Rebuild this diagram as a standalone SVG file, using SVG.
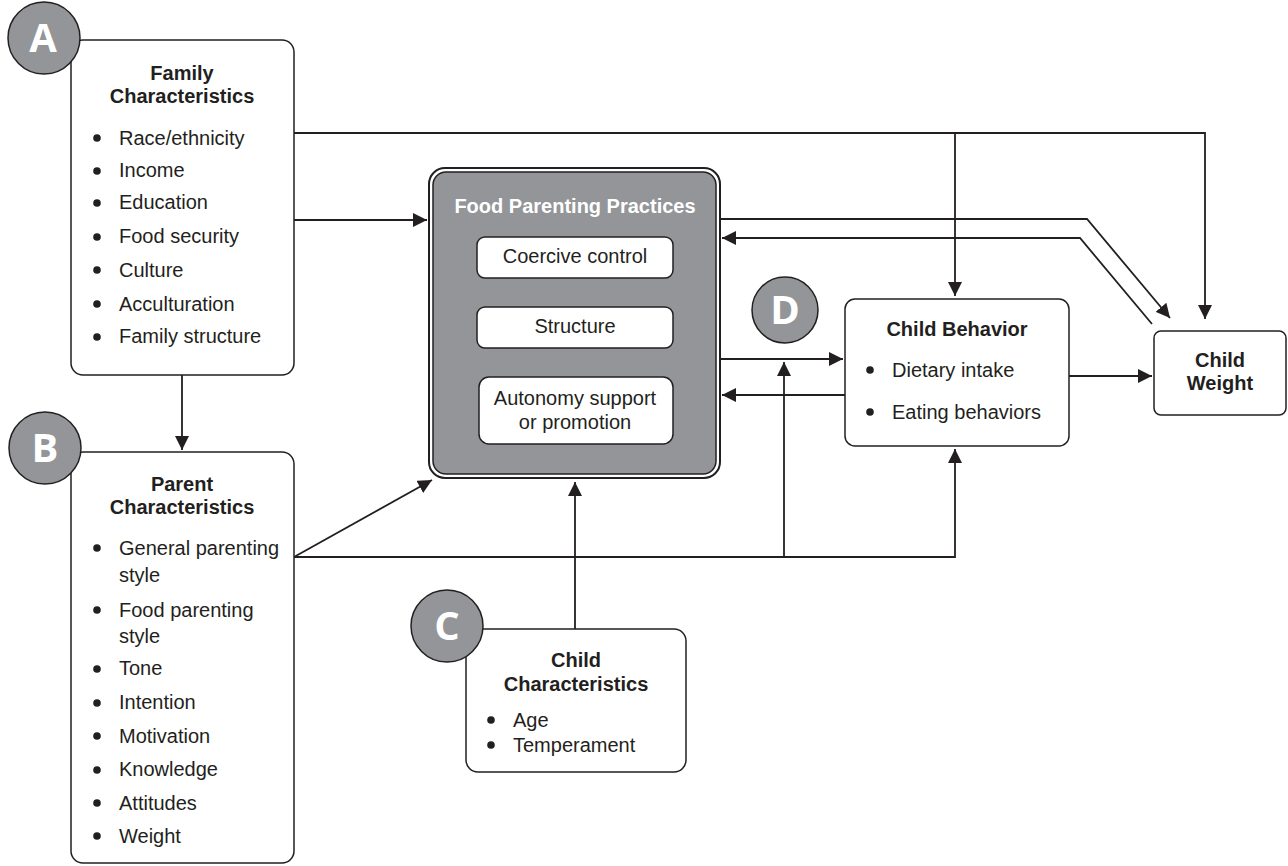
<svg xmlns="http://www.w3.org/2000/svg" width="1288" height="866" viewBox="0 0 1288 866">
<style>
.box{fill:#fff;stroke:#231f20;stroke-width:1.5}
.t{font-family:"Liberation Sans",Arial,sans-serif;font-size:20px;fill:#231f20}
.b{font-weight:bold}
.c{text-anchor:middle}
.circ{fill:#939598;stroke:#231f20;stroke-width:1.5}
.lt{font-family:"Open Sans",sans-serif;font-weight:bold;font-size:40px;fill:#fff;text-anchor:middle}
.ln{fill:none;stroke:#231f20;stroke-width:1.8}
.dot{fill:#231f20}
</style>
<defs>
<marker id="ah2" viewBox="0 0 10 10" refX="10" refY="5" markerWidth="14" markerHeight="14" markerUnits="userSpaceOnUse" orient="auto">
<path d="M0,0 L10,5 L0,10 z" fill="#231f20"/>
</marker>
</defs>
<rect width="1288" height="866" fill="#fff"/>

<g id="connectors">
<polyline class="ln" points="294,133 1205,133 1205,319" marker-end="url(#ah2)"/>
<line class="ln" x1="955" y1="133" x2="955" y2="296" marker-end="url(#ah2)"/>
<line class="ln" x1="294" y1="220" x2="427" y2="220" marker-end="url(#ah2)"/>
<line class="ln" x1="182" y1="375" x2="182" y2="450" marker-end="url(#ah2)"/>
<polyline class="ln" points="720,219 1087,219 1170,318" marker-end="url(#ah2)"/>
<polyline class="ln" points="1152,324 1080,238 722,238" marker-end="url(#ah2)"/>
<line class="ln" x1="720" y1="359" x2="843" y2="359" marker-end="url(#ah2)"/>
<line class="ln" x1="845" y1="395" x2="722" y2="395" marker-end="url(#ah2)"/>
<line class="ln" x1="1068" y1="376" x2="1152" y2="376" marker-end="url(#ah2)"/>
<line class="ln" x1="294" y1="557" x2="432" y2="480" marker-end="url(#ah2)"/>
<polyline class="ln" points="294,557 955,557 955,449" marker-end="url(#ah2)"/>
<line class="ln" x1="784" y1="557" x2="784" y2="362" marker-end="url(#ah2)"/>
<line class="ln" x1="575" y1="629" x2="575" y2="482" marker-end="url(#ah2)"/>
</g>

<g id="familyChar">
<rect class="box" x="71" y="40" width="223" height="335" rx="12"/>
<text class="t b c" x="182" y="80">Family</text>
<text class="t b c" x="182" y="103">Characteristics</text>
<g class="t">
<circle class="dot" cx="97" cy="138" r="3.8"/><text x="119" y="145">Race/ethnicity</text>
<circle class="dot" cx="97" cy="171" r="3.8"/><text x="119" y="177">Income</text>
<circle class="dot" cx="97" cy="203" r="3.8"/><text x="119" y="209">Education</text>
<circle class="dot" cx="97" cy="237" r="3.8"/><text x="119" y="243">Food security</text>
<circle class="dot" cx="97" cy="270" r="3.8"/><text x="119" y="277">Culture</text>
<circle class="dot" cx="97" cy="304" r="3.8"/><text x="119" y="311">Acculturation</text>
<circle class="dot" cx="97" cy="337" r="3.8"/><text x="119" y="343">Family structure</text>
</g>
</g>
<g id="labelA">
<circle class="circ" cx="44" cy="38" r="36"/>
<text class="lt" x="43" y="52">A</text>
</g>

<g id="parentChar">
<rect class="box" x="71" y="452" width="223" height="411" rx="12"/>
<text class="t b c" x="182" y="491">Parent</text>
<text class="t b c" x="182" y="514">Characteristics</text>
<g class="t">
<circle class="dot" cx="97" cy="548" r="3.8"/><text x="119" y="555">General parenting</text>
<text x="119" y="582">style</text>
<circle class="dot" cx="97" cy="610" r="3.8"/><text x="119" y="617">Food parenting</text>
<text x="119" y="643">style</text>
<circle class="dot" cx="97" cy="669" r="3.8"/><text x="119" y="675">Tone</text>
<circle class="dot" cx="97" cy="703" r="3.8"/><text x="119" y="709">Intention</text>
<circle class="dot" cx="97" cy="736" r="3.8"/><text x="119" y="743">Motivation</text>
<circle class="dot" cx="97" cy="770" r="3.8"/><text x="119" y="776">Knowledge</text>
<circle class="dot" cx="97" cy="803" r="3.8"/><text x="119" y="810">Attitudes</text>
<circle class="dot" cx="97" cy="836" r="3.8"/><text x="119" y="843">Weight</text>
</g>
</g>
<g id="labelB">
<circle class="circ" cx="45" cy="448" r="36"/>
<text class="lt" x="45" y="462">B</text>
</g>

<g id="fpp">
<rect x="429" y="168" width="291" height="310" rx="16" fill="#fff" stroke="#231f20" stroke-width="2"/>
<rect x="433" y="172" width="283" height="302" rx="13" fill="#939598" stroke="#231f20" stroke-width="1.5"/>
<text class="t b c" x="575" y="213" style="fill:#fff">Food Parenting Practices</text>
<rect class="box" x="477" y="237" width="196" height="41" rx="8"/>
<text class="t c" x="575" y="263">Coercive control</text>
<rect class="box" x="477" y="307" width="196" height="41" rx="8"/>
<text class="t c" x="575" y="333">Structure</text>
<rect class="box" x="479" y="377" width="194" height="67" rx="10"/>
<text class="t c" x="575" y="405">Autonomy support</text>
<text class="t c" x="575" y="429">or promotion</text>
</g>

<g id="childChar">
<rect class="box" x="466" y="629" width="220" height="143" rx="12"/>
<text class="t b c" x="576" y="667">Child</text>
<text class="t b c" x="576" y="691">Characteristics</text>
<g class="t">
<circle class="dot" cx="491" cy="720" r="3.8"/><text x="513" y="727">Age</text>
<circle class="dot" cx="491" cy="745" r="3.8"/><text x="513" y="752">Temperament</text>
</g>
</g>
<g id="labelC">
<circle class="circ" cx="447" cy="626" r="36"/>
<text class="lt" x="447" y="640">C</text>
</g>

<g id="labelD">
<circle class="circ" cx="785" cy="310" r="33"/>
<text class="lt" x="785" y="324">D</text>
</g>

<g id="childBehavior">
<rect class="box" x="845" y="299" width="224" height="147" rx="10"/>
<text class="t b c" x="957" y="336">Child Behavior</text>
<g class="t">
<circle class="dot" cx="870" cy="370" r="3.8"/><text x="892" y="377">Dietary intake</text>
<circle class="dot" cx="870" cy="412" r="3.8"/><text x="892" y="419">Eating behaviors</text>
</g>
</g>

<g id="childWeight">
<rect class="box" x="1154" y="331" width="132" height="84" rx="7"/>
<text class="t b c" x="1220" y="367">Child</text>
<text class="t b c" x="1220" y="390">Weight</text>
</g>
</svg>
